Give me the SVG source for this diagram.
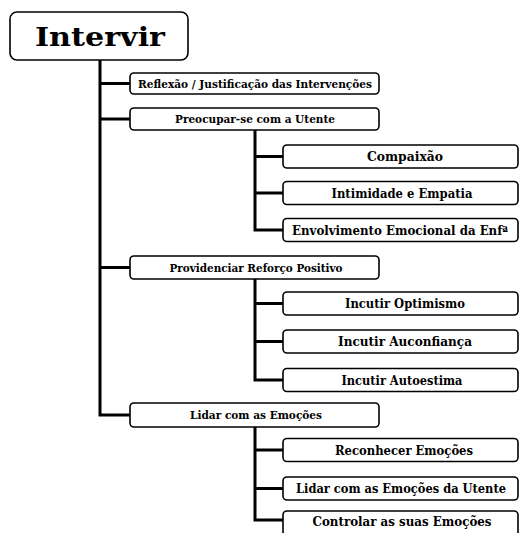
<svg xmlns="http://www.w3.org/2000/svg" width="519" height="533" viewBox="0 0 519 533">
<style>
.box{fill:#fff;stroke:#000;stroke-width:1.6}
.ln{fill:none;stroke:#000;stroke-width:3}
.t{font-family:"DejaVu Serif","Liberation Serif",serif;font-weight:bold;fill:#000;text-anchor:middle}
.t0{font-size:26px}
.t1{font-size:11.5px}
.t2{font-size:13px}
.t3{font-size:12px}
</style>
<rect width="519" height="533" fill="#fff"/>
<g id="connectors">
<path class="ln" d="M100,60 V415 H130"/>
<path class="ln" d="M100,83.5 H130 M100,119 H130 M100,267.5 H130"/>
<path class="ln" d="M255,130 V230 H283 M255,156.5 H283 M255,193 H283"/>
<path class="ln" d="M255,279 V380 H283 M255,303.5 H283 M255,341.5 H283"/>
<path class="ln" d="M255,427 V520 H283 M255,450 H283 M255,488.5 H283"/>
</g>
<g id="root"><rect class="box" x="10" y="12" width="178" height="48" rx="7" stroke-width="2"/><text class="t t0" x="100" y="46" textLength="130" lengthAdjust="spacingAndGlyphs">Intervir</text></g>
<g id="reflexao"><rect class="box" x="130" y="73" width="249" height="21" rx="4"/><text class="t t1" x="255" y="88" textLength="234" lengthAdjust="spacingAndGlyphs">Reflexão / Justificação das Intervenções</text></g>
<g id="preocupar"><rect class="box" x="130" y="108" width="249" height="22" rx="4"/><text class="t t1" x="255" y="123" textLength="160" lengthAdjust="spacingAndGlyphs">Preocupar-se com a Utente</text></g>
<g id="compaixao"><rect class="box" x="283" y="145" width="235" height="23" rx="4"/><text class="t t2" x="405" y="161" textLength="76" lengthAdjust="spacingAndGlyphs">Compaixão</text></g>
<g id="intimidade"><rect class="box" x="283" y="181.5" width="235" height="23" rx="4"/><text class="t t2" x="402" y="197.5" textLength="141" lengthAdjust="spacingAndGlyphs">Intimidade e Empatia</text></g>
<g id="envolvimento"><rect class="box" x="283" y="218.5" width="235" height="23" rx="4"/><text class="t t3" x="400" y="234.5" textLength="216" lengthAdjust="spacingAndGlyphs">Envolvimento Emocional da Enfª</text></g>
<g id="providenciar"><rect class="box" x="130" y="256" width="249" height="23" rx="4"/><text class="t t1" x="256" y="271.5" textLength="173" lengthAdjust="spacingAndGlyphs">Providenciar Reforço Positivo</text></g>
<g id="optimismo"><rect class="box" x="283" y="292" width="235" height="23" rx="4"/><text class="t t2" x="405" y="308" textLength="120" lengthAdjust="spacingAndGlyphs">Incutir Optimismo</text></g>
<g id="auconfianca"><rect class="box" x="283" y="330" width="235" height="23" rx="4"/><text class="t t2" x="405" y="346" textLength="134" lengthAdjust="spacingAndGlyphs">Incutir Auconfiança</text></g>
<g id="autoestima"><rect class="box" x="283" y="368.5" width="235" height="23" rx="4"/><text class="t t2" x="402" y="384.5" textLength="121" lengthAdjust="spacingAndGlyphs">Incutir Autoestima</text></g>
<g id="lidar"><rect class="box" x="130" y="403" width="249" height="24" rx="4"/><text class="t t1" x="256" y="419" textLength="132" lengthAdjust="spacingAndGlyphs">Lidar com as Emoções</text></g>
<g id="reconhecer"><rect class="box" x="283" y="438.5" width="235" height="23" rx="4"/><text class="t t2" x="404" y="454.5" textLength="138" lengthAdjust="spacingAndGlyphs">Reconhecer Emoções</text></g>
<g id="lidar-utente"><rect class="box" x="283" y="477" width="235" height="23" rx="4"/><text class="t t3" x="401" y="493" textLength="210" lengthAdjust="spacingAndGlyphs">Lidar com as Emoções da Utente</text></g>
<g id="controlar"><rect class="box" x="283" y="511" width="235" height="30" rx="4"/><text class="t t2" x="402" y="526" textLength="179" lengthAdjust="spacingAndGlyphs">Controlar as suas Emoções</text></g>
</svg>
